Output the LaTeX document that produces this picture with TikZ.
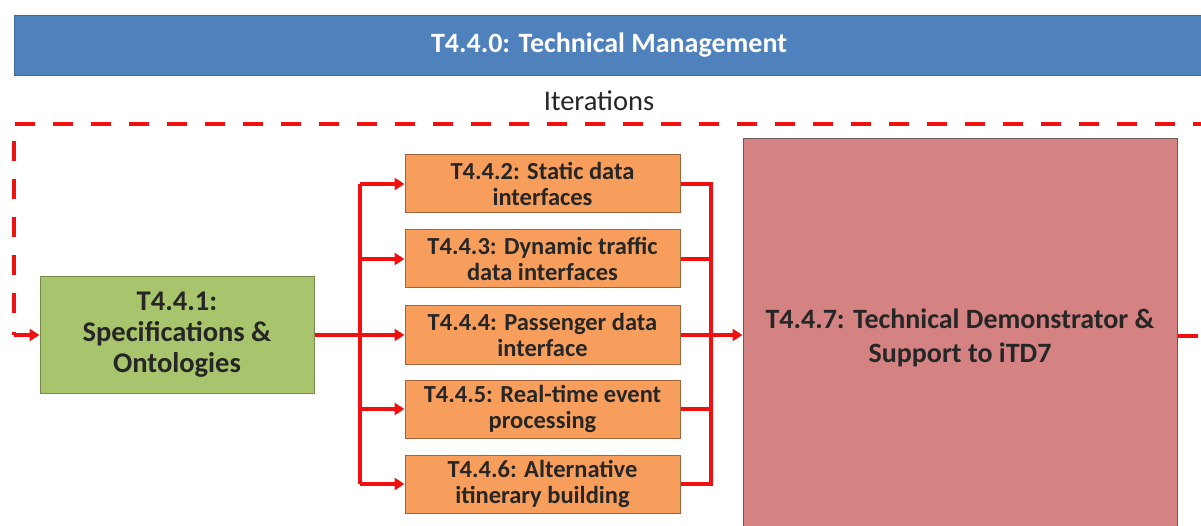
\documentclass[tikz,border=0pt]{standalone}
\usepackage{fontspec}
\setmainfont{Carlito}
\usetikzlibrary{arrows.meta,positioning}
\definecolor{barblue}{RGB}{79,129,189}
\definecolor{specgreen}{RGB}{168,196,108}
\definecolor{specgreenline}{RGB}{120,140,80}
\definecolor{taskorange}{RGB}{247,158,92}
\definecolor{taskorangeline}{RGB}{160,100,60}
\definecolor{demopink}{RGB}{212,130,130}
\definecolor{demopinkline}{RGB}{110,90,90}
\definecolor{flowred}{RGB}{240,16,16}
\tikzset{
  titlebar/.style={rectangle, fill=barblue, draw=barblue!80!black, line width=0.8pt, inner sep=0pt},
  specbox/.style={rectangle, fill=specgreen, draw=specgreenline, line width=1pt, inner sep=0pt,
    align=center, font=\bfseries\fontsize{28.5}{31}\selectfont, text=black!85},
  taskbox/.style={rectangle, fill=taskorange, draw=taskorangeline, line width=1pt, inner sep=0pt,
    align=center, font=\bfseries\fontsize{24.5}{26.5}\selectfont, text=black!85,
    minimum width=275pt, minimum height=58pt},
  demobox/.style={rectangle, fill=demopink, draw=demopinkline, line width=1pt, inner sep=0pt,
    align=center, font=\bfseries\fontsize{28}{34}\selectfont, text=black!85},
  flow/.style={draw=flowred, line width=3.5pt},
  flowarrow/.style={flow, -{Triangle[length=10pt,width=12pt]}},
  iterloop/.style={draw=flowred, line width=4.5pt, dash pattern=on 20pt off 18pt},
}
\begin{document}
\begin{tikzpicture}[x=1pt,y=-1pt]
\useasboundingbox (0,0) rectangle (1201,526);
\clip (0,0) rectangle (1201,526);
\fill[white] (0,0) rectangle (1201,526);

\node[titlebar, minimum width=1200pt, minimum height=60pt, anchor=north west] (tm) at (14,15) {};
\node[text=white, font=\bfseries\fontsize{28}{32}\selectfont] (tmtext) at (609,45) {T4.4.0: Technical Management};
\node[font=\fontsize{28.5}{32}\selectfont, text=black!85] (iter) at (599,101) {Iterations};

\node[specbox, minimum width=274pt, minimum height=116pt] (spec) at (177,335)
  {T4.4.1:\\Specifications \&\\Ontologies};

\node[taskbox] (t2) at (542.5,184) {T4.4.2: Static data\\interfaces};
\node[taskbox] (t3) at (542.5,259) {T4.4.3: Dynamic traffic\\data interfaces};
\node[taskbox] (t4) at (542.5,335) {T4.4.4: Passenger data\\interface};
\node[taskbox] (t5) at (542.5,409) {T4.4.5: Real-time event\\processing};
\node[taskbox] (t6) at (542.5,484) {T4.4.6: Alternative\\itinerary building};

\node[demobox, minimum width=434pt, minimum height=398pt] (demo) at (960,338)
  {T4.4.7: Technical Demonstrator \&\\Support to iTD7};

% fan out
\coordinate (split) at (360,335);
\coordinate (splittop) at (360,184);
\coordinate (splitbot) at (360,484);
\draw[flow] (spec.east) -- (split);
\draw[flow] (splittop) -- (splitbot);
\draw[flowarrow] (splittop) -- (t2.west);
\draw[flowarrow] (t3.west -| split) -- (t3.west);
\draw[flowarrow] (split) -- (t4.west);
\draw[flowarrow] (t5.west -| split) -- (t5.west);
\draw[flowarrow] (splitbot) -- (t6.west);

% merge
\coordinate (merge) at (711,335);
\coordinate (mergetop) at (711,184);
\coordinate (mergebot) at (711,484);
\draw[flow] (t2.east) -- (mergetop) -- (mergebot) -- (t6.east);
\draw[flow] (t3.east) -- (t3.east -| merge);
\draw[flow] (t4.east) -- (merge);
\draw[flow] (t5.east) -- (t5.east -| merge);
\draw[flowarrow] (merge) -- (merge -| demo.west);

% iteration loop
\coordinate (loopr) at (1203,336);
\coordinate (looprt) at (1203,124);
\coordinate (looplt) at (14,124);
\coordinate (looplb) at (14,335);
\draw[iterloop] (loopr -| demo.east) -- (loopr) -- (looprt) -- (looplt) -- (looplb);
\draw[draw=flowred, line width=4.5pt, -{Triangle[length=10pt,width=12pt]}] (looplb) -- (spec.west);
\end{tikzpicture}
\end{document}
